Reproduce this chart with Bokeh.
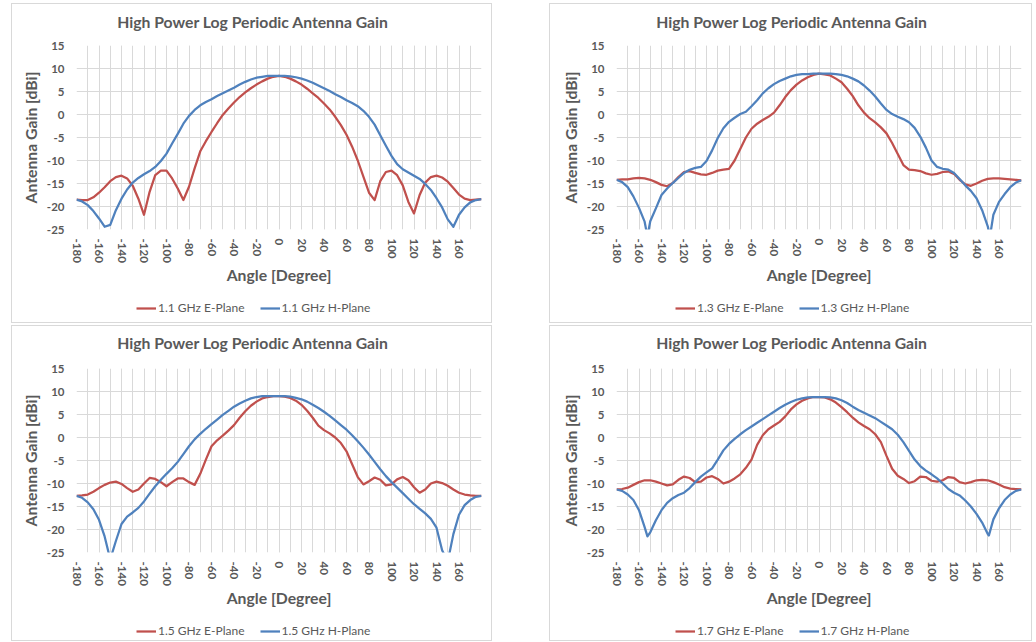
import math
from bokeh.plotting import figure
from bokeh.models import (Range1d, FixedTicker, Legend, LegendItem, Spacer,
                          PrintfTickFormatter, Label)
from bokeh.layouts import row, column
from bokeh.embed import file_html
from bokeh.resources import INLINE

ANGLES = list(range(-180, 181, 5))
X_TICKS = list(range(-180, 161, 20))
X_GRID = list(range(-180, 181, 10))
Y_TICKS = [-25, -20, -15, -10, -5, 0, 5, 10, 15]

TITLE = "High Power Log Periodic Antenna Gain"
X_TITLE = "Angle [Degree]"
Y_TITLE = "Antenna Gain [dBi]"

# 1.1 GHz
E11 = [-18.5, -18.6, -18.6, -18.0, -17.0, -15.8, -14.5, -13.6, -13.3, -13.9,
       -15.5, -18.3, -21.8, -16.8, -13.2, -12.2, -12.2, -13.9, -16.1, -18.6,
       -15.7, -11.7, -8.0, -5.8, -3.8, -1.9, -0.1, 1.3, 2.6, 3.8,
       4.8, 5.7, 6.5, 7.2, 7.8, 8.2, 8.4,
       8.2, 7.8, 7.2, 6.5, 5.6, 4.6, 3.6, 2.4, 1.1, -0.5,
       -2.3, -4.4, -7.0, -10.0, -13.5, -17.0, -18.6, -14.5, -12.5, -12.2,
       -13.2, -15.4, -19.0, -21.5, -17.5, -14.8, -13.6, -13.3, -13.7, -14.6,
       -16.0, -17.4, -18.3, -18.6, -18.5, -18.4]
H11 = [-18.5, -18.9, -19.7, -21.0, -22.6, -24.4, -24.0, -20.8, -18.3, -16.3,
       -14.8, -13.8, -13.0, -12.3, -11.4, -10.1, -8.5, -6.3, -4.2, -2.0,
       -0.3, 1.0, 2.0, 2.7, 3.3, 4.0, 4.6, 5.2, 5.8, 6.5,
       7.1, 7.6, 8.0, 8.2, 8.4, 8.4, 8.4,
       8.4, 8.3, 8.1, 7.8, 7.4, 6.9, 6.3, 5.7, 5.1, 4.4,
       3.8, 3.1, 2.5, 1.8, 0.8, -0.5, -2.2, -4.5, -6.8, -9.0,
       -10.8, -11.9, -12.6, -13.3, -14.0, -15.1, -16.4, -18.2, -20.2, -22.8,
       -24.4, -21.8, -20.2, -19.1, -18.6, -18.4]

# 1.3 GHz
E13 = [-14.2, -14.1, -14.1, -13.9, -13.8, -13.9, -14.2, -14.7, -15.3, -15.6,
       -14.9, -13.6, -12.5, -12.3, -12.7, -13.0, -13.1, -12.7, -12.2, -12.0,
       -11.8, -10.0, -7.5, -5.0, -3.1, -2.0, -1.2, -0.5, 0.4, 2.0,
       3.8, 5.3, 6.5, 7.4, 8.1, 8.6, 8.9,
       8.7, 8.5, 7.8, 7.0, 5.6, 4.0, 2.0, 0.4, -0.8, -1.7,
       -2.8, -4.1, -6.2, -8.6, -11.0, -12.0, -12.1, -12.3, -12.8, -13.1,
       -12.9, -12.5, -12.4, -12.9, -14.2, -15.2, -15.5, -15.0, -14.4, -14.0,
       -13.9, -13.9, -14.0, -14.1, -14.2, -14.3]
H13 = [-14.2, -14.7, -15.8, -17.8, -20.3, -23.3, -23.2, -20.4, -17.5, -16.1,
       -14.9, -13.8, -12.7, -12.0, -11.6, -11.4, -10.1, -7.8, -5.1, -3.0,
       -1.6, -0.7, 0.1, 0.6, 1.8, 3.1, 4.6, 5.7, 6.6, 7.3,
       7.8, 8.3, 8.6, 8.8, 8.8, 8.9, 8.9,
       8.9, 8.9, 8.8, 8.6, 8.3, 7.8, 7.2, 6.3, 5.2, 3.9,
       2.4, 1.0, 0.1, -0.5, -1.0, -1.7, -2.9, -4.8, -7.2, -10.0,
       -11.4, -11.8, -12.0, -12.7, -14.0, -15.4, -16.6, -18.2, -20.8, -24.3,
       -21.8, -19.0, -17.3, -15.8, -14.8, -14.3]
H13_NULLS = [(-152.5, -26.5), (152.0, -26.5)]

# 1.5 GHz
E15 = [-12.7, -12.6, -12.4, -11.8, -11.0, -10.3, -9.8, -9.6, -10.1, -11.0,
       -11.8, -11.3, -10.0, -8.8, -9.0, -9.7, -10.6, -9.7, -8.9, -8.9,
       -9.7, -10.3, -7.9, -4.8, -1.9, -0.6, 0.4, 1.5, 2.7, 4.3,
       5.7, 6.9, 7.8, 8.5, 8.8, 9.0, 9.0,
       8.9, 8.6, 8.0, 7.1, 5.8, 4.3, 2.6, 1.6, 0.9, 0.0,
       -1.2, -3.0, -5.8, -8.6, -10.2, -9.5, -8.7, -9.2, -10.4, -10.2,
       -9.1, -8.6, -9.3, -10.8, -12.0, -11.3, -10.0, -9.6, -9.9, -10.5,
       -11.3, -12.0, -12.4, -12.6, -12.7, -12.7]
H15 = [-12.7, -13.1, -14.1, -15.6, -17.9, -21.5, -26.5, -22.5, -18.8, -17.2,
       -16.3, -15.3, -13.9, -12.2, -10.6, -9.2, -7.9, -6.7, -5.3, -3.6,
       -1.9, -0.4, 0.8, 1.9, 2.9, 3.9, 4.9, 5.8, 6.7, 7.4,
       8.0, 8.5, 8.8, 9.0, 9.0, 9.0, 9.0,
       9.0, 8.9, 8.6, 8.3, 7.8, 7.1, 6.4, 5.6, 4.7, 3.7,
       2.7, 1.7, 0.5, -0.8, -2.2, -3.7, -5.3, -6.9, -8.4, -9.7,
       -10.9, -12.1, -13.3, -14.5, -15.5, -16.5, -17.7, -19.6, -24.5, -27.0,
       -21.0, -16.8, -14.7, -13.6, -12.9, -12.7]

# 1.7 GHz
E17 = [-11.3, -11.2, -10.9, -10.3, -9.7, -9.3, -9.3, -9.6, -10.0, -10.4,
       -10.2, -9.2, -8.5, -8.8, -9.7, -9.6, -8.7, -8.4, -9.0, -10.0,
       -9.6, -8.9, -8.0, -6.6, -4.8, -1.6, 0.5, 1.8, 2.6, 3.4,
       4.6, 6.1, 7.2, 8.0, 8.5, 8.8, 8.8,
       8.7, 8.3, 7.6, 6.6, 5.5, 4.3, 3.3, 2.5, 1.8, 0.7,
       -1.0, -4.0, -6.8, -8.3, -9.0, -9.9, -9.5, -8.5, -8.6, -9.4,
       -9.6, -9.3, -8.6, -8.8, -9.7, -10.0, -9.7, -9.3, -9.2, -9.3,
       -9.7, -10.2, -10.8, -11.1, -11.2, -11.3]
H17 = [-11.3, -11.6, -12.4, -13.6, -15.8, -19.5, -20.6, -18.0, -15.8, -14.2,
       -13.2, -12.5, -12.0, -11.0, -9.7, -8.5, -7.6, -6.7, -4.8, -2.8,
       -1.4, -0.3, 0.7, 1.6, 2.4, 3.2, 4.0, 4.8, 5.6, 6.4,
       7.1, 7.7, 8.2, 8.5, 8.7, 8.8, 8.8,
       8.8, 8.7, 8.5, 8.1, 7.5, 6.7, 6.0, 5.4, 4.8, 4.2,
       3.4, 2.6, 1.8, 0.6, -1.0, -2.9, -4.8, -6.2, -7.2, -8.0,
       -8.9, -10.0, -11.2, -12.0, -12.6, -13.7, -15.0, -16.6, -18.5, -21.0,
       -17.8, -15.4, -13.6, -12.4, -11.6, -11.3]
H17_NULLS = [(-152.5, -21.5), (151.0, -21.3)]

RED = "#C0504D"
BLUE = "#4F81BD"
TEXT = "#595959"
GRID = "#D9D9D9"
BORDER = "1px solid #D9D9D9"
FONT = "Lato"


def pts(vals, extra=()):
    p = sorted(list(zip(ANGLES, vals)) + list(extra))
    return [a for a, _ in p], [v for _, v in p]


def strip(width, height, styles):
    return figure(width=width, height=height, output_backend="svg", toolbar_location=None,
                  x_axis_type=None, y_axis_type=None, x_range=Range1d(0, 1),
                  y_range=Range1d(0, 1), min_border=0, outline_line_color=None,
                  background_fill_color="white", border_fill_color="white",
                  title=None, styles=styles)


def panel(freq, e_vals, h_vals, h_extra, width, mb_left, top_h, title_y, main_h,
          mb_bottom, leg_h, leg_x, leg_y):
    # title strip (its frame is aligned with the chart frame inside the column)
    ts = strip(width, top_h, {"border": BORDER, "border-bottom": "none",
                              "box-sizing": "border-box"})
    ts.add_layout(Label(x=width / 2 - mb_left, y=top_h - title_y,
                        x_units="screen", y_units="screen",
                        text=TITLE, text_align="center", text_baseline="middle",
                        text_font=FONT, text_font_size="15.75px", text_font_style="bold",
                        text_color=TEXT))

    # chart
    p = figure(width=width, height=main_h, output_backend="svg", toolbar_location=None,
               x_range=Range1d(-180, 180), y_range=Range1d(-25, 15), title=None,
               min_border_left=mb_left, min_border_right=width - mb_left - 405,
               min_border_top=8, min_border_bottom=mb_bottom,
               background_fill_color="white", border_fill_color="white",
               outline_line_color=None,
               styles={"border-left": BORDER, "border-right": BORDER,
                       "box-sizing": "border-box"})
    xa, ya = p.xaxis[0], p.yaxis[0]
    xa.ticker = FixedTicker(ticks=X_TICKS, minor_ticks=X_GRID)
    ya.ticker = FixedTicker(ticks=Y_TICKS)
    for ax in (xa, ya):
        ax.formatter = PrintfTickFormatter(format="%d")
        ax.axis_line_color = None
        ax.major_tick_line_color = None
        ax.minor_tick_line_color = None
        ax.major_tick_out = 0
        ax.major_tick_in = 0
        ax.minor_tick_out = 0
        ax.major_label_text_font = FONT
        ax.major_label_text_font_size = "11.5px"
        ax.major_label_text_font_style = "bold"
        ax.major_label_text_color = TEXT
        ax.axis_label_text_font = FONT
        ax.axis_label_text_font_size = "15.75px"
        ax.axis_label_text_font_style = "bold"
        ax.axis_label_text_color = TEXT
    xa.axis_label = X_TITLE
    ya.axis_label = Y_TITLE
    xa.major_label_orientation = -math.pi / 2
    xa.major_label_standoff = 9
    xa.axis_label_standoff = -1
    ya.major_label_standoff = 12
    ya.axis_label_standoff = 4

    p.xgrid.grid_line_color = GRID
    p.xgrid.minor_grid_line_color = GRID
    p.ygrid.grid_line_color = GRID

    ex, ey = pts(e_vals)
    hx, hy = pts(h_vals, h_extra)
    p.line(ex, ey, line_color=RED, line_width=2.25, line_join="round")
    p.line(hx, hy, line_color=BLUE, line_width=2.25, line_join="round")

    # legend strip
    lg = strip(width, leg_h, {"border": BORDER, "border-top": "none",
                              "box-sizing": "border-box"})
    le = lg.line([math.nan], [math.nan], line_color=RED, line_width=2.25)
    lh = lg.line([math.nan], [math.nan], line_color=BLUE, line_width=2.25)
    leg = Legend(items=[LegendItem(label=f"{freq} GHz E-Plane", renderers=[le]),
                        LegendItem(label=f"{freq} GHz H-Plane", renderers=[lh])],
                 orientation="horizontal", location=(leg_x, leg_y),
                 border_line_color=None, background_fill_alpha=0,
                 label_text_font=FONT, label_text_font_size="12px",
                 label_text_color=TEXT, glyph_width=20, glyph_height=12,
                 label_height=12, label_standoff=2, spacing=15, padding=2,
                 margin=0)
    lg.add_layout(leg, "center")
    return column(ts, p, lg, spacing=0)


# top row: panel y 3..323 (frame 45..229), bottom row: y 325..641 (frame 368..552)
c1 = panel("1.1", E11, H11, [], 481, 64, 34, 17, 255, 63, 31, 60, 8)
c2 = panel("1.3", E13, H13, H13_NULLS, 483, 66, 34, 17, 255, 63, 31, 59, 8)
c3 = panel("1.5", E15, H15, [], 481, 64, 35, 16, 254, 62, 27, 60, 3)
c4 = panel("1.7", E17, H17, H17_NULLS, 483, 66, 35, 16, 254, 62, 27, 59, 3)

layout = column(
    Spacer(height=3),
    row(Spacer(width=11), c1, Spacer(width=57), c2),
    Spacer(height=2),
    row(Spacer(width=11), c3, Spacer(width=57), c4),
)

open("out.html", "w").write(file_html(layout, INLINE))
